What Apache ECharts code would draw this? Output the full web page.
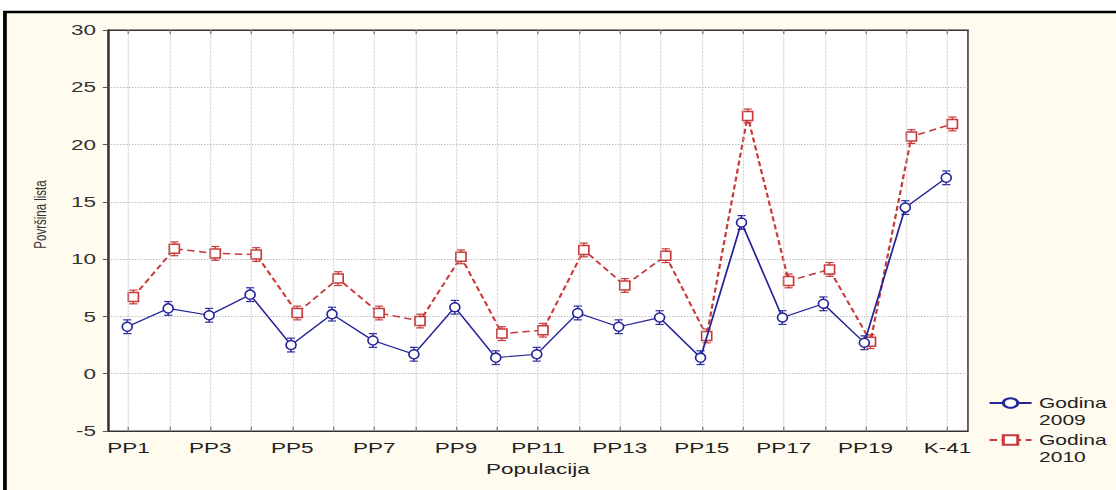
<!DOCTYPE html>
<html><head><meta charset="utf-8">
<script src="https://cdn.jsdelivr.net/npm/echarts@6/dist/echarts.min.js"></script>
<style>
html,body{margin:0;padding:0;background:#fff;overflow:hidden}
#wrap{width:1116px;height:490px;overflow:hidden}
#c{width:744px;height:490px;transform:scaleX(1.5);transform-origin:0 0}
</style>
</head><body><div id="wrap"><div id="c"></div></div>
<script>
const categories = ['PP1','PP2','PP3','PP4','PP5','PP6','PP7','PP8','PP9','PP10','PP11','PP12','PP13','PP14','PP15','PP16','PP17','PP18','PP19','PP20','K-41'];
const values2009 = [4.1,5.7,5.1,6.9,2.5,5.2,2.9,1.7,5.8,1.4,1.7,5.3,4.1,4.9,1.4,13.2,4.9,6.1,2.7,14.5,17.1];
const values2010 = [6.7,10.9,10.5,10.4,5.3,8.3,5.3,4.6,10.2,3.5,3.8,10.8,7.7,10.3,3.3,22.5,8.1,9.1,2.8,20.7,21.8];
const err2009 = [0.6,0.6,0.6,0.6,0.6,0.6,0.6,0.6,0.6,0.6,0.6,0.6,0.6,0.6,0.6,0.6,0.6,0.6,0.6,0.6,0.6];
const err2010 = [0.6,0.6,0.6,0.6,0.6,0.6,0.6,0.6,0.6,0.6,0.6,0.6,0.6,0.6,0.6,0.6,0.6,0.6,0.6,0.6,0.6];
const yTickMin = -5, yTickMax = 30, yTickStep = 5;
const name2009 = 'Godina\n2009', name2010 = 'Godina\n2010';

const BLUE = '#25259a', RED = '#c83a3a';
const OFF2009 = -0.03, OFF2010 = 0.12;
const FONT = 'Liberation Sans, Arial, sans-serif';

function pts(vals, off){ return vals.map((v,i)=>[i+off, v]); }
function errPts(vals, errs, off){ return vals.map((v,i)=>[i+off, v, errs[i]]); }
function errRender(color){
  return function(params, api){
    const x = api.value(0), v = api.value(1), e = api.value(2);
    const t = api.coord([x, v+e]), b = api.coord([x, v-e]);
    const w = 2.7;
    const st = {stroke: color, lineWidth: 1.2};
    return {type:'group', children:[
      {type:'line', shape:{x1:t[0],y1:t[1],x2:b[0],y2:b[1]}, style:{stroke:color, lineWidth:0.9}},
      {type:'line', shape:{x1:t[0]-w,y1:t[1],x2:t[0]+w,y2:t[1]}, style:st},
      {type:'line', shape:{x1:b[0]-w,y1:b[1],x2:b[0]+w,y2:b[1]}, style:st}
    ]};
  };
}
const legendText = {fontFamily:FONT, fontSize:14, color:'#222', lineHeight:17};
const legendFmt = n => '\n' + n;

const chart = echarts.init(document.getElementById('c'), null, {renderer:'svg'});
chart.setOption({
  animation:false,
  backgroundColor:'#ffffff',
  graphic:[{type:'rect', z:-10, silent:true, shape:{x:3.3, y:12, width:745, height:482},
            style:{fill:'#fffbee', stroke:'#000', lineWidth:2.5}}],
  grid:{left:72, right:98.7, top:30, bottom:59, show:true, backgroundColor:'#ffffff', borderColor:'#333', borderWidth:1},
  legend:[
    {orient:'vertical', left:658.7, top:377.5, padding:0, itemWidth:28, itemHeight:12, itemGap:0,
     data:[name2009], textStyle:legendText, formatter:legendFmt},
    {orient:'vertical', left:658.7, top:414.5, padding:0, itemWidth:28, itemHeight:12, itemGap:0,
     data:[name2010], textStyle:legendText, formatter:legendFmt}
  ],
  xAxis:[
    {type:'category', data:categories, boundaryGap:true, position:'bottom',
     axisLine:{show:true, onZero:false, lineStyle:{color:'#333'}},
     axisTick:{show:true, inside:true, alignWithLabel:true, interval:0, length:4, lineStyle:{color:'#555', width:0.8}},
     axisLabel:{interval:1, fontFamily:FONT, fontSize:15, color:'#222', margin:9},
     splitLine:{show:false},
     name:'Populacija', nameLocation:'middle', nameGap:30,
     nameTextStyle:{fontFamily:FONT, fontSize:15, color:'#222'}},
    {type:'value', min:-0.5, max:20.5, show:false, axisLine:{onZero:false}, splitLine:{show:false}},
    {type:'category', data:categories, boundaryGap:true, position:'top',
     axisLine:{show:true, onZero:false, lineStyle:{color:'#333'}},
     axisTick:{show:true, inside:true, alignWithLabel:true, interval:0, length:4, lineStyle:{color:'#555', width:0.8}},
     axisLabel:{show:false}, splitLine:{show:false}}
  ],
  yAxis:{type:'value', min:yTickMin, max:yTickMax, interval:yTickStep,
    axisLine:{show:true, onZero:false, lineStyle:{color:'#333', width:1.3}},
    axisTick:{show:true, length:3.5, lineStyle:{color:'#555'}},
    axisLabel:{fontFamily:FONT, fontSize:15, color:'#333', margin:8},
    splitLine:{show:true, lineStyle:{color:'#bdbdbd', type:'dotted', width:1}},
    name:'Površina lista', nameLocation:'middle', nameGap:39,
    nameTextStyle:{fontFamily:FONT, fontSize:11.5, color:'#333', padding:[0,0,0,32]}
  },
  series:[
    {type:'line', xAxisIndex:1, data:[], silent:true,
     markLine:{silent:true, symbol:'none', label:{show:false},
       lineStyle:{color:'#bdbdbd', type:'dotted', width:0.7},
       data:categories.map((c,i)=>({xAxis:i}))}},
    {type:'custom', xAxisIndex:1, data:errPts(values2009, err2009, OFF2009), renderItem:errRender(BLUE), z:3, encode:{x:0,y:1}, silent:true},
    {type:'custom', xAxisIndex:1, data:errPts(values2010, err2010, OFF2010), renderItem:errRender(RED), z:3, encode:{x:0,y:1}, silent:true},
    {type:'line', name:name2010, xAxisIndex:1, data:pts(values2010, OFF2010), z:4,
     symbol:'rect', symbolSize:[6.7,9], showAllSymbol:true,
     lineStyle:{color:RED, width:1.5, type:[5,3]},
     itemStyle:{color:'#ffffff', borderColor:RED, borderWidth:1.3}},
    {type:'line', name:name2009, xAxisIndex:1, data:pts(values2009, OFF2009), z:5,
     symbol:'circle', symbolSize:[6.7,9], showAllSymbol:true,
     lineStyle:{color:BLUE, width:1.2},
     itemStyle:{color:'#ffffff', borderColor:BLUE, borderWidth:1.3}}
  ]
});
</script></body></html>
